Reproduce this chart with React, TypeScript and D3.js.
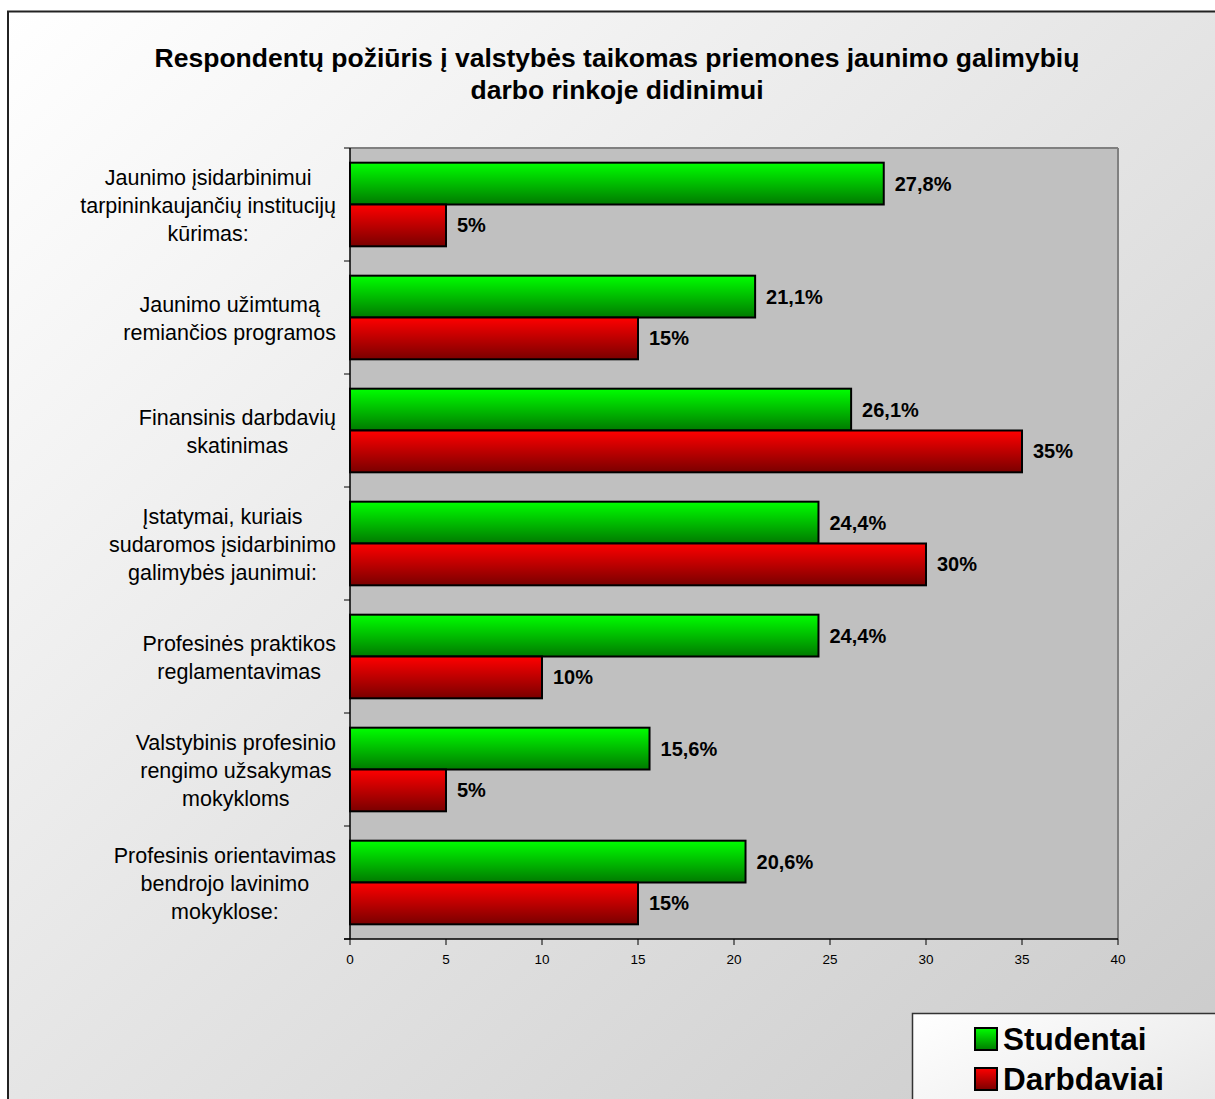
import React from 'react';
import * as d3 from 'd3';

const title = ['Respondentų požiūris į valstybės taikomas priemones jaunimo galimybių', 'darbo rinkoje didinimui'];

const categories = [
  ['Jaunimo įsidarbinimui', 'tarpininkaujančių institucijų', 'kūrimas:'],
  ['Jaunimo užimtumą', 'remiančios programos'],
  ['Finansinis darbdavių', 'skatinimas'],
  ['Įstatymai, kuriais', 'sudaromos įsidarbinimo', 'galimybės jaunimui:'],
  ['Profesinės praktikos', 'reglamentavimas'],
  ['Valstybinis profesinio', 'rengimo užsakymas', 'mokykloms'],
  ['Profesinis orientavimas', 'bendrojo lavinimo', 'mokyklose:'],
];

const studentai = [27.8, 21.1, 26.1, 24.4, 24.4, 15.6, 20.6];
const darbdaviai = [5, 15, 35, 30, 10, 5, 15];
const seriesNames = ['Studentai', 'Darbdaviai'];
const xTicks = [0, 5, 10, 15, 20, 25, 30, 35, 40];

const fmt = (v: number) => (Number.isInteger(v) ? `${v}%` : `${v.toFixed(1).replace('.', ',')}%`);

const W = 1215;
const H = 1099;
const plot = { left: 350, right: 1118, top: 148, bottom: 939 };
const font = 'Liberation Sans, Arial, sans-serif';
const catSize = 21.5;

// label blocks are right-aligned to the axis, lines centred inside the block
const ctx = document.createElement('canvas').getContext('2d');
const measure = (s: string) => {
  if (!ctx) return s.length * catSize * 0.5;
  ctx.font = `${catSize}px ${font}`;
  return ctx.measureText(s).width;
};

export default function App() {
  const keys = categories.map((_, i) => String(i));
  const x = d3.scaleLinear().domain([0, 40]).range([plot.left, plot.right]);
  const y = d3.scaleBand().domain(keys).range([plot.top, plot.bottom]).paddingInner(0.26).paddingOuter(0.13);
  const inner = d3.scaleBand().domain(seriesNames).range([0, y.bandwidth()]);
  const step = y.step();
  const values = [studentai, darbdaviai];
  const fills = ['url(#gGreen)', 'url(#gRed)'];
  const labelRight = 336;

  return (
    <svg width={W} height={H} style={{ position: 'absolute', left: 0, top: 0 }} fontFamily={font}>
      <defs>
        <linearGradient id="bg" x1="0" y1="0" x2="1" y2="1">
          <stop offset="0" stopColor="#ffffff" />
          <stop offset="1" stopColor="#c6c6c6" />
        </linearGradient>
        <linearGradient id="gGreen" x1="0" y1="0" x2="0" y2="1">
          <stop offset="0" stopColor="#00ff00" />
          <stop offset="1" stopColor="#007a00" />
        </linearGradient>
        <linearGradient id="gRed" x1="0" y1="0" x2="0" y2="1">
          <stop offset="0" stopColor="#ff0000" />
          <stop offset="1" stopColor="#7a0000" />
        </linearGradient>
        <linearGradient id="legBg" x1="0" y1="0" x2="1" y2="1">
          <stop offset="0" stopColor="#ffffff" />
          <stop offset="1" stopColor="#d8d8d8" />
        </linearGradient>
      </defs>

      {/* chart frame */}
      <rect x={8} y={11.5} width={1300} height={1200} fill="url(#bg)" stroke="#222" strokeWidth={2} />

      {/* title */}
      {title.map((t, i) => (
        <text key={i} x={617} y={67 + i * 32} textAnchor="middle" fontSize={26.5} fontWeight="bold" fill="#000">
          {t}
        </text>
      ))}

      {/* plot area */}
      <rect x={plot.left} y={plot.top} width={plot.right - plot.left} height={plot.bottom - plot.top} fill="#c0c0c0" />
      <line x1={plot.left} y1={plot.top} x2={plot.right} y2={plot.top} stroke="#808080" strokeWidth={2} />
      <line x1={plot.right} y1={plot.top} x2={plot.right} y2={plot.bottom} stroke="#808080" strokeWidth={2} />

      {/* bars */}
      {keys.map((k, i) => (
        <g key={k}>
          {seriesNames.map((s, j) => {
            const v = values[j][i];
            const by = (y(k) as number) + (inner(s) as number);
            const bh = inner.bandwidth();
            return (
              <g key={s}>
                <rect x={x(0)} y={by} width={x(v) - x(0)} height={bh} fill={fills[j]} stroke="#000" strokeWidth={2} />
                <text x={x(v) + 11} y={by + bh / 2 + 7} fontSize={20} fontWeight="bold" fill="#000">
                  {fmt(v)}
                </text>
              </g>
            );
          })}
        </g>
      ))}

      {/* y axis */}
      <line x1={plot.left} y1={plot.top} x2={plot.left} y2={plot.bottom} stroke="#000" strokeWidth={1.5} />
      {d3.range(categories.length + 1).map((i) => {
        const ty = plot.top + i * step;
        return <line key={i} x1={plot.left - 6} x2={plot.left} y1={ty} y2={ty} stroke="#000" strokeWidth={1} />;
      })}
      {categories.map((lines, i) => {
        const cy = (y(keys[i]) as number) + y.bandwidth() / 2;
        const lh = 28;
        const start = cy - ((lines.length - 1) * lh) / 2;
        const blockW = d3.max(lines, measure) ?? 0;
        const cx = labelRight - blockW / 2;
        return (
          <text key={i} textAnchor="middle" fontSize={catSize} fill="#000">
            {lines.map((l, li) => (
              <tspan key={li} x={cx} y={start + li * lh + 8}>
                {l}
              </tspan>
            ))}
          </text>
        );
      })}

      {/* x axis */}
      <line x1={plot.left - 6} y1={plot.bottom} x2={plot.right} y2={plot.bottom} stroke="#000" strokeWidth={1.5} />
      {xTicks.map((t) => (
        <g key={t}>
          <line x1={x(t)} x2={x(t)} y1={plot.bottom} y2={plot.bottom + 6} stroke="#000" strokeWidth={1} />
          <text x={x(t)} y={plot.bottom + 25} textAnchor="middle" fontSize={13.5} fill="#000">
            {t}
          </text>
        </g>
      ))}

      {/* legend */}
      <rect x={912.5} y={1013.5} width={400} height={200} fill="url(#legBg)" stroke="#333" strokeWidth={1.5} />
      {seriesNames.map((s, j) => (
        <g key={s}>
          <rect x={975} y={1028 + j * 40} width={22} height={22} fill={fills[j]} stroke="#000" strokeWidth={2} />
          <text x={1003} y={1050 + j * 40} fontSize={31.5} fontWeight="bold" fill="#000">
            {s}
          </text>
        </g>
      ))}
    </svg>
  );
}
